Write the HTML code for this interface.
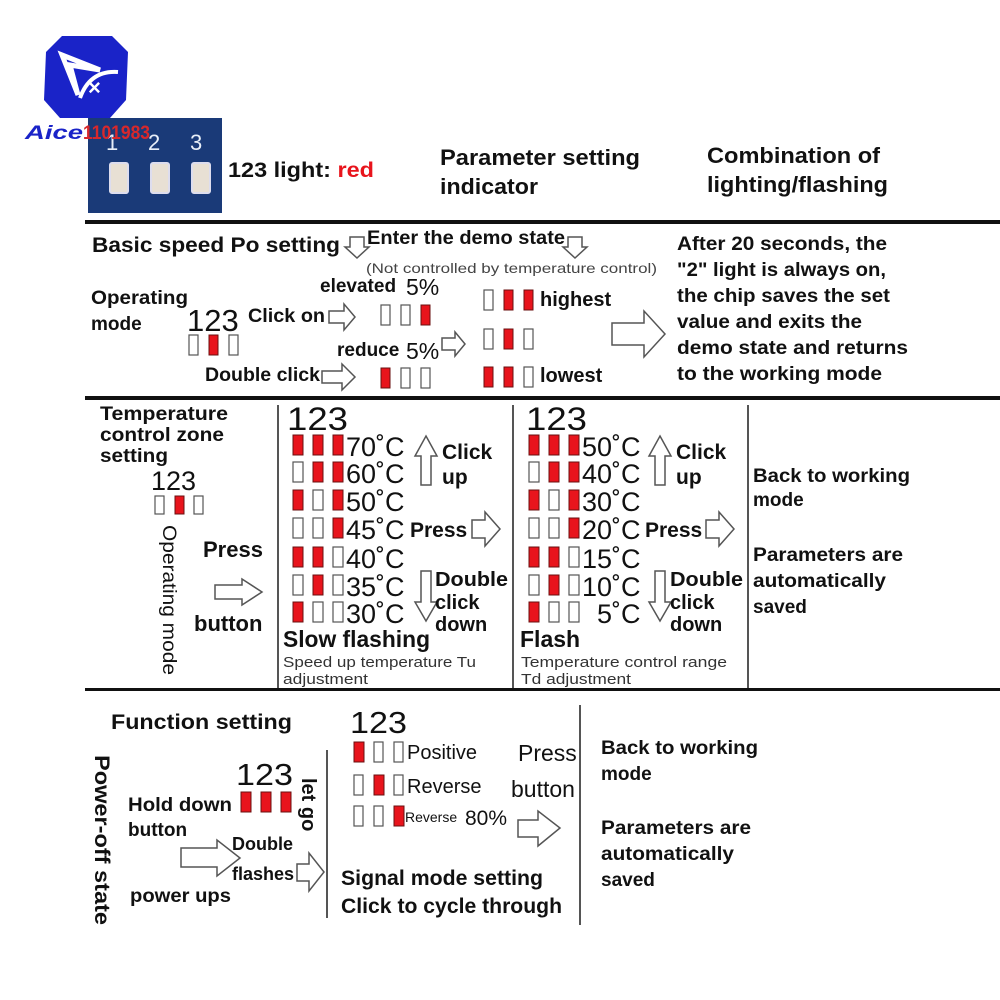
<!DOCTYPE html>
<html><head><meta charset="utf-8"><style>
html,body{margin:0;padding:0;background:#fff}
svg{display:block}
text{font-family:"Liberation Sans",sans-serif;fill:#111}
.b{font-weight:bold}
.on{fill:#e8141c;stroke:#6a1010;stroke-width:1}
.off{fill:#fff;stroke:#555;stroke-width:1.2}
.ar{fill:#fff;stroke:#555;stroke-width:1.5}
</style></head><body>
<svg width="1000" height="1000" viewBox="0 0 1000 1000" xmlns="http://www.w3.org/2000/svg">
<!-- pcb -->
<rect x="88" y="118" width="134" height="95" fill="#1a3a78"/>
<text x="106" y="150" style="fill:#e8eef8;font-size:22px">1</text>
<text x="148" y="150" style="fill:#e8eef8;font-size:22px">2</text>
<text x="190" y="150" style="fill:#e8eef8;font-size:22px">3</text>
<rect x="110" y="163" width="18" height="30" rx="2" fill="#e8e0d4" stroke="#dde" stroke-width="2"/>
<rect x="151" y="163" width="18" height="30" rx="2" fill="#e8e0d4" stroke="#dde" stroke-width="2"/>
<rect x="192" y="163" width="18" height="30" rx="2" fill="#e8e0d4" stroke="#dde" stroke-width="2"/>
<!-- logo -->
<path d="M62 36 L112 36 L128 52 L126 100 L110 118 L60 118 L44 100 L46 52 Z" fill="#1a23c8"/>
<path d="M62 55 L100 70 L70 65 L78 95 Z" fill="none" stroke="#fff" stroke-width="5"/>
<path d="M80 98 Q90 70 118 72" fill="none" stroke="#fff" stroke-width="4"/>
<text x="88" y="95" style="fill:#fff;font-size:22px" class="b">×</text>
<text x="25" y="139" style="fill:#1a23c8;font-size:19px;font-style:italic" class="b" textLength="58" lengthAdjust="spacingAndGlyphs">Aice</text>
<text x="83" y="139" style="fill:#d8282c;font-size:19px" class="b" textLength="67" lengthAdjust="spacingAndGlyphs">1101983</text>

<text x="228" y="177" style="font-size:21px" class="b" textLength="146" lengthAdjust="spacingAndGlyphs">123 light: <tspan style="fill:#e8141c">red</tspan></text>
<text x="440" y="165" style="font-size:22px" class="b" textLength="200" lengthAdjust="spacingAndGlyphs">Parameter setting</text>
<text x="440" y="194" style="font-size:22px" class="b" textLength="98" lengthAdjust="spacingAndGlyphs">indicator</text>
<text x="707" y="163" style="font-size:22px" class="b" textLength="173" lengthAdjust="spacingAndGlyphs">Combination of</text>
<text x="707" y="192" style="font-size:22px" class="b" textLength="181" lengthAdjust="spacingAndGlyphs">lighting/flashing</text>
<!-- lines -->
<rect x="85" y="220" width="915" height="4" fill="#111"/>
<rect x="85" y="396" width="915" height="4" fill="#111"/>
<rect x="85" y="688" width="915" height="3" fill="#111"/>
<rect x="277" y="405" width="2" height="283" fill="#555"/>
<rect x="512" y="405" width="2" height="283" fill="#555"/>
<rect x="747" y="405" width="2" height="283" fill="#555"/>
<rect x="326" y="750" width="2" height="168" fill="#555"/>
<rect x="579" y="705" width="2" height="220" fill="#555"/>

<!-- section 2 -->
<text x="92" y="252" style="font-size:21px" class="b" textLength="248" lengthAdjust="spacingAndGlyphs">Basic speed Po setting</text>
<path class="ar" d="M350 237 H364 V247 H369 L357 258 L345 247 H350 Z"/>
<text x="367" y="244" style="font-size:19px" class="b" textLength="198" lengthAdjust="spacingAndGlyphs">Enter the demo state</text>
<path class="ar" d="M568 237 H582 V247 H587 L575 258 L563 247 H568 Z"/>
<text x="366" y="273" style="font-size:14px;fill:#444" textLength="291" lengthAdjust="spacingAndGlyphs">(Not controlled by temperature control)</text>
<text x="91" y="304" style="font-size:19px" class="b" textLength="97" lengthAdjust="spacingAndGlyphs">Operating</text>
<text x="91" y="330" style="font-size:19px" class="b">mode</text>
<text x="187" y="331" style="font-size:31px">123</text>
<rect class="off" x="189" y="335" width="9" height="20"/><rect class="on" x="209" y="335" width="9" height="20"/><rect class="off" x="229" y="335" width="9" height="20"/>
<text x="248" y="322" style="font-size:19px" class="b" textLength="77" lengthAdjust="spacingAndGlyphs">Click on</text>
<path class="ar" d="M329 311 H344 V304 L355 317 L344 330 V323 H329 Z"/>
<text x="320" y="292" style="font-size:19px" class="b">elevated</text>
<text x="406" y="295" style="font-size:23px">5%</text>
<rect class="off" x="381" y="305" width="9" height="20"/><rect class="off" x="401" y="305" width="9" height="20"/><rect class="on" x="421" y="305" width="9" height="20"/>
<text x="337" y="356" style="font-size:19px" class="b">reduce</text>
<text x="406" y="359" style="font-size:23px">5%</text>
<path class="ar" d="M442 338 H455 V332 L465 344 L455 356 V350 H442 Z"/>
<text x="205" y="381" style="font-size:19px" class="b" textLength="115" lengthAdjust="spacingAndGlyphs">Double click</text>
<path class="ar" d="M322 371 H342 V364 L355 377 L342 390 V383 H322 Z"/>
<rect class="on" x="381" y="368" width="9" height="20"/><rect class="off" x="401" y="368" width="9" height="20"/><rect class="off" x="421" y="368" width="9" height="20"/>
<rect class="off" x="484" y="290" width="9" height="20"/><rect class="on" x="504" y="290" width="9" height="20"/><rect class="on" x="524" y="290" width="9" height="20"/>
<text x="540" y="306" style="font-size:20px" class="b">highest</text>
<rect class="off" x="484" y="329" width="9" height="20"/><rect class="on" x="504" y="329" width="9" height="20"/><rect class="off" x="524" y="329" width="9" height="20"/>
<rect class="on" x="484" y="367" width="9" height="20"/><rect class="on" x="504" y="367" width="9" height="20"/><rect class="off" x="524" y="367" width="9" height="20"/>
<text x="540" y="382" style="font-size:20px" class="b">lowest</text>
<path class="ar" d="M612 323 H644 V311 L665 334 L644 357 V345 H612 Z"/>
<g style="font-size:19px" class="b">
<text x="677" y="250" class="b" textLength="210" lengthAdjust="spacingAndGlyphs">After 20 seconds, the</text>
<text x="677" y="276" class="b" textLength="209" lengthAdjust="spacingAndGlyphs">"2" light is always on,</text>
<text x="677" y="302" class="b" textLength="213" lengthAdjust="spacingAndGlyphs">the chip saves the set</text>
<text x="677" y="328" class="b" textLength="185" lengthAdjust="spacingAndGlyphs">value and exits the</text>
<text x="677" y="354" class="b" textLength="231" lengthAdjust="spacingAndGlyphs">demo state and returns</text>
<text x="677" y="380" class="b" textLength="205" lengthAdjust="spacingAndGlyphs">to the working mode</text>
</g>

<!-- section 3 left -->
<text x="100" y="420" style="font-size:19px" class="b" textLength="128" lengthAdjust="spacingAndGlyphs">Temperature</text>
<text x="100" y="441" style="font-size:19px" class="b" textLength="124" lengthAdjust="spacingAndGlyphs">control zone</text>
<text x="100" y="462" style="font-size:19px" class="b" textLength="68" lengthAdjust="spacingAndGlyphs">setting</text>
<text x="151" y="490" style="font-size:27px">123</text>
<rect class="off" x="155" y="496" width="9" height="18"/><rect class="on" x="175" y="496" width="9" height="18"/><rect class="off" x="194" y="496" width="9" height="18"/>
<text transform="translate(163,525) rotate(90)" style="font-size:19px" textLength="150" lengthAdjust="spacingAndGlyphs">Operating  mode</text>
<text x="203" y="557" style="font-size:22px" class="b">Press</text>
<path class="ar" d="M215 585 H242 V579 L262 592 L242 605 V599 H215 Z"/>
<text x="194" y="631" style="font-size:22px" class="b">button</text>

<!-- section 3 middle -->
<text x="287" y="430" style="font-size:32px" textLength="61" lengthAdjust="spacingAndGlyphs">123</text>
<g>
<rect class="on" x="293" y="435" width="10" height="20"/><rect class="on" x="313" y="435" width="10" height="20"/><rect class="on" x="333" y="435" width="10" height="20"/>
<rect class="off" x="293" y="462" width="10" height="20"/><rect class="on" x="313" y="462" width="10" height="20"/><rect class="on" x="333" y="462" width="10" height="20"/>
<rect class="on" x="293" y="490" width="10" height="20"/><rect class="off" x="313" y="490" width="10" height="20"/><rect class="on" x="333" y="490" width="10" height="20"/>
<rect class="off" x="293" y="518" width="10" height="20"/><rect class="off" x="313" y="518" width="10" height="20"/><rect class="on" x="333" y="518" width="10" height="20"/>
<rect class="on" x="293" y="547" width="10" height="20"/><rect class="on" x="313" y="547" width="10" height="20"/><rect class="off" x="333" y="547" width="10" height="20"/>
<rect class="off" x="293" y="575" width="10" height="20"/><rect class="on" x="313" y="575" width="10" height="20"/><rect class="off" x="333" y="575" width="10" height="20"/>
<rect class="on" x="293" y="602" width="10" height="20"/><rect class="off" x="313" y="602" width="10" height="20"/><rect class="off" x="333" y="602" width="10" height="20"/>
</g>
<g style="font-size:27px">
<text x="346" y="456">70˚C</text><text x="346" y="483">60˚C</text><text x="346" y="511">50˚C</text><text x="346" y="539">45˚C</text><text x="346" y="568">40˚C</text><text x="346" y="596">35˚C</text><text x="346" y="623">30˚C</text>
</g>
<path class="ar" d="M426 436 L437 456 H431 V485 H421 V456 H415 Z"/>
<text x="442" y="459" style="font-size:21px" class="b">Click</text>
<text x="442" y="484" style="font-size:21px" class="b">up</text>
<text x="410" y="537" style="font-size:21px" class="b">Press</text>
<path class="ar" d="M472 520 H485 V512 L500 529 L485 546 V538 H472 Z"/>
<path class="ar" d="M421 571 H431 V602 H437 L426 621 L415 602 H421 Z"/>
<text x="435" y="586" style="font-size:20px" class="b" textLength="73" lengthAdjust="spacingAndGlyphs">Double</text>
<text x="435" y="609" style="font-size:20px" class="b">click</text>
<text x="435" y="631" style="font-size:20px" class="b">down</text>
<text x="283" y="647" style="font-size:23px" class="b" textLength="147" lengthAdjust="spacingAndGlyphs">Slow flashing</text>
<text x="283" y="667" style="font-size:15px;fill:#333" textLength="193" lengthAdjust="spacingAndGlyphs">Speed up temperature Tu</text>
<text x="283" y="684" style="font-size:15px;fill:#333" textLength="85" lengthAdjust="spacingAndGlyphs">adjustment</text>

<!-- section 3 right -->
<text x="526" y="430" style="font-size:32px" textLength="61" lengthAdjust="spacingAndGlyphs">123</text>
<g>
<rect class="on" x="529" y="435" width="10" height="20"/><rect class="on" x="549" y="435" width="10" height="20"/><rect class="on" x="569" y="435" width="10" height="20"/>
<rect class="off" x="529" y="462" width="10" height="20"/><rect class="on" x="549" y="462" width="10" height="20"/><rect class="on" x="569" y="462" width="10" height="20"/>
<rect class="on" x="529" y="490" width="10" height="20"/><rect class="off" x="549" y="490" width="10" height="20"/><rect class="on" x="569" y="490" width="10" height="20"/>
<rect class="off" x="529" y="518" width="10" height="20"/><rect class="off" x="549" y="518" width="10" height="20"/><rect class="on" x="569" y="518" width="10" height="20"/>
<rect class="on" x="529" y="547" width="10" height="20"/><rect class="on" x="549" y="547" width="10" height="20"/><rect class="off" x="569" y="547" width="10" height="20"/>
<rect class="off" x="529" y="575" width="10" height="20"/><rect class="on" x="549" y="575" width="10" height="20"/><rect class="off" x="569" y="575" width="10" height="20"/>
<rect class="on" x="529" y="602" width="10" height="20"/><rect class="off" x="549" y="602" width="10" height="20"/><rect class="off" x="569" y="602" width="10" height="20"/>
</g>
<g style="font-size:27px">
<text x="582" y="456">50˚C</text><text x="582" y="483">40˚C</text><text x="582" y="511">30˚C</text><text x="582" y="539">20˚C</text><text x="582" y="568">15˚C</text><text x="582" y="596">10˚C</text><text x="597" y="623">5˚C</text>
</g>
<path class="ar" d="M660 436 L671 456 H665 V485 H655 V456 H649 Z"/>
<text x="676" y="459" style="font-size:21px" class="b">Click</text>
<text x="676" y="484" style="font-size:21px" class="b">up</text>
<text x="645" y="537" style="font-size:21px" class="b">Press</text>
<path class="ar" d="M706 520 H719 V512 L734 529 L719 546 V538 H706 Z"/>
<path class="ar" d="M655 571 H665 V602 H671 L660 621 L649 602 H655 Z"/>
<text x="670" y="586" style="font-size:20px" class="b" textLength="73" lengthAdjust="spacingAndGlyphs">Double</text>
<text x="670" y="609" style="font-size:20px" class="b">click</text>
<text x="670" y="631" style="font-size:20px" class="b">down</text>
<text x="520" y="647" style="font-size:23px" class="b">Flash</text>
<text x="521" y="667" style="font-size:15px;fill:#333" textLength="206" lengthAdjust="spacingAndGlyphs">Temperature control range</text>
<text x="521" y="684" style="font-size:15px;fill:#333" textLength="110" lengthAdjust="spacingAndGlyphs">Td adjustment</text>
<text x="753" y="482" style="font-size:19px" class="b" textLength="157" lengthAdjust="spacingAndGlyphs">Back to working</text>
<text x="753" y="506" style="font-size:19px" class="b">mode</text>
<text x="753" y="561" style="font-size:19px" class="b" textLength="150" lengthAdjust="spacingAndGlyphs">Parameters are</text>
<text x="753" y="587" style="font-size:19px" class="b" textLength="133" lengthAdjust="spacingAndGlyphs">automatically</text>
<text x="753" y="613" style="font-size:19px" class="b">saved</text>

<!-- section 4 -->
<text x="111" y="729" style="font-size:21px" class="b" textLength="181" lengthAdjust="spacingAndGlyphs">Function setting</text>
<text transform="translate(95,755) rotate(90)" style="font-size:21px" class="b" textLength="170" lengthAdjust="spacingAndGlyphs">Power-off state</text>
<text x="236" y="785" style="font-size:31px" textLength="57" lengthAdjust="spacingAndGlyphs">123</text>
<rect class="on" x="241" y="792" width="10" height="20"/><rect class="on" x="261" y="792" width="10" height="20"/><rect class="on" x="281" y="792" width="10" height="20"/>
<text transform="translate(302,778) rotate(90)" style="font-size:20px" class="b">let go</text>
<text x="128" y="811" style="font-size:19px" class="b" textLength="104" lengthAdjust="spacingAndGlyphs">Hold down</text>
<text x="128" y="836" style="font-size:19px" class="b">button</text>
<path class="ar" d="M181 848 H217 V840 L240 858 L217 876 V867 H181 Z"/>
<text x="232" y="850" style="font-size:18px" class="b">Double</text>
<text x="232" y="880" style="font-size:18px" class="b">flashes</text>
<path class="ar" d="M297 864 H309 V853 L324 872 L309 891 V881 H297 Z"/>
<text x="130" y="902" style="font-size:19px" class="b" textLength="101" lengthAdjust="spacingAndGlyphs">power ups</text>
<text x="350" y="733" style="font-size:31px" textLength="57" lengthAdjust="spacingAndGlyphs">123</text>
<rect class="on" x="354" y="742" width="10" height="20"/><rect class="off" x="374" y="742" width="9" height="20"/><rect class="off" x="394" y="742" width="9" height="20"/>
<rect class="off" x="354" y="775" width="9" height="20"/><rect class="on" x="374" y="775" width="10" height="20"/><rect class="off" x="394" y="775" width="9" height="20"/>
<rect class="off" x="354" y="806" width="9" height="20"/><rect class="off" x="374" y="806" width="9" height="20"/><rect class="on" x="394" y="806" width="10" height="20"/>
<text x="407" y="759" style="font-size:20px">Positive</text>
<text x="407" y="793" style="font-size:20px">Reverse</text>
<text x="405" y="822" style="font-size:14px">Reverse</text>
<text x="465" y="825" style="font-size:21px">80%</text>
<text x="518" y="761" style="font-size:23px">Press</text>
<text x="511" y="797" style="font-size:23px">button</text>
<path class="ar" d="M518 820 H538 V811 L560 828 L538 846 V837 H518 Z"/>
<text x="341" y="885" style="font-size:21px" class="b" textLength="202" lengthAdjust="spacingAndGlyphs">Signal mode setting</text>
<text x="341" y="913" style="font-size:21px" class="b" textLength="221" lengthAdjust="spacingAndGlyphs">Click to cycle through</text>
<text x="601" y="754" style="font-size:19px" class="b" textLength="157" lengthAdjust="spacingAndGlyphs">Back to working</text>
<text x="601" y="780" style="font-size:19px" class="b">mode</text>
<text x="601" y="834" style="font-size:19px" class="b" textLength="150" lengthAdjust="spacingAndGlyphs">Parameters are</text>
<text x="601" y="860" style="font-size:19px" class="b" textLength="133" lengthAdjust="spacingAndGlyphs">automatically</text>
<text x="601" y="886" style="font-size:19px" class="b">saved</text>
</svg>
</body></html>
